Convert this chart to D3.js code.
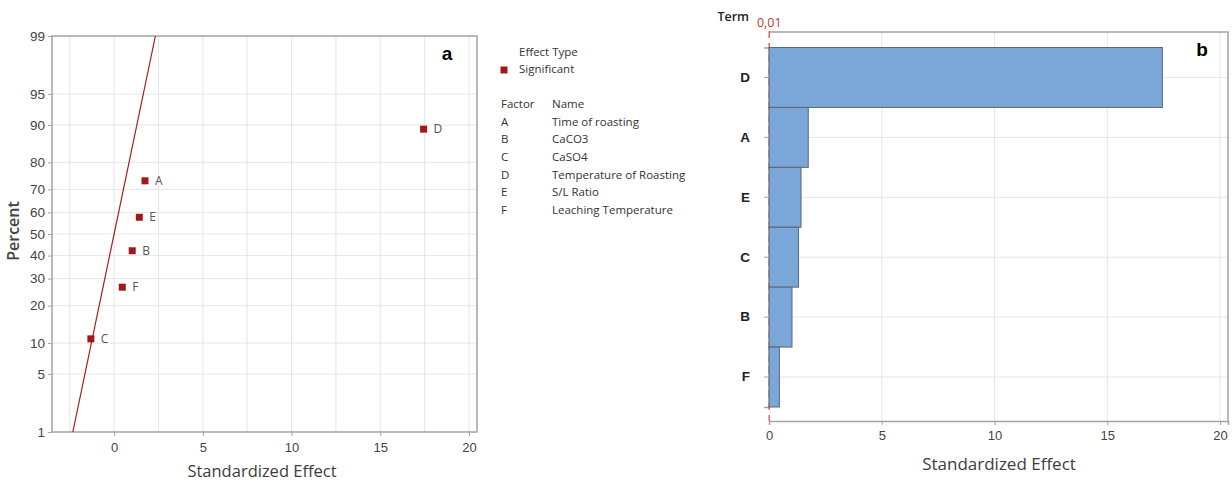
<!DOCTYPE html>
<html>
<head>
<meta charset="utf-8">
<script src="https://cdn.jsdelivr.net/npm/d3@7"></script>
<style>
  html, body { margin: 0; padding: 0; background: #fff; }
  svg { display: block; font-family: "Open Sans", "Noto Sans", sans-serif; }
</style>
</head>
<body>
<svg id="chart" width="1232" height="485"></svg>
<script>
// Factors and their standardized effects
const factors = ["A", "B", "C", "D", "E", "F"];
const factorNames = ["Time of roasting", "CaCO3", "CaSO4", "Temperature of Roasting", "S/L Ratio", "Leaching Temperature"];
const effects = [1.74, 1.02, -1.31, 17.44, 1.42, 0.46];
// Plotting percentiles of the normal plot (median ranks)
const percents = [73.4, 42.2, 10.9, 89.1, 57.8, 26.6];

// Axis ticks
const percentTicks = [1, 5, 10, 20, 30, 40, 50, 60, 70, 80, 90, 95, 99];
const effectTicks = [0, 5, 10, 15, 20];
const effectGrid = [-2.5, 0, 2.5, 5, 7.5, 10, 12.5, 15, 17.5, 20];
const paretoGrid = [5, 10, 15, 20];
// Reference line of the normal plot (mean, sd) and Pareto reference value
const refMean = 0, refSd = 1;
const paretoRef = 0.01;
const paretoRefLabel = "0,01";

const svg = d3.select("#chart");
const axisGrey = "#a3a3a3";
const gridGrey = "#e6e6e6";
const textGrey = "#444";
const markRed = "#9e1a1a";

// Inverse standard normal CDF (Acklam)
function probit(p) {
  const a = [-3.969683028665376e+01, 2.209460984245205e+02, -2.759285104469687e+02, 1.383577518672690e+02, -3.066479806614716e+01, 2.506628277459239e+00];
  const b = [-5.447609879822406e+01, 1.615858368580409e+02, -1.556989798598866e+02, 6.680131188771972e+01, -1.328068155288572e+01];
  const c = [-7.784894002430293e-03, -3.223964580411365e-01, -2.400758277161838e+00, -2.549671348283867e+00, 4.374664141464968e+00, 2.938163982698783e+00];
  const d = [7.784695709041462e-03, 3.224671290700398e-01, 2.445134137142996e+00, 3.754408661907416e+00];
  const pl = 0.02425;
  let q, r;
  if (p < pl) {
    q = Math.sqrt(-2 * Math.log(p));
    return (((((c[0]*q+c[1])*q+c[2])*q+c[3])*q+c[4])*q+c[5]) / ((((d[0]*q+d[1])*q+d[2])*q+d[3])*q+1);
  } else if (p <= 1 - pl) {
    q = p - 0.5; r = q * q;
    return (((((a[0]*r+a[1])*r+a[2])*r+a[3])*r+a[4])*r+a[5])*q / (((((b[0]*r+b[1])*r+b[2])*r+b[3])*r+b[4])*r+1);
  } else {
    q = Math.sqrt(-2 * Math.log(1 - p));
    return -(((((c[0]*q+c[1])*q+c[2])*q+c[3])*q+c[4])*q+c[5]) / ((((d[0]*q+d[1])*q+d[2])*q+d[3])*q+1);
  }
}

/* ---------------- Normal plot of standardized effects ---------------- */
const A = { left: 52, right: 477, top: 36, bottom: 432 };
const zLo = probit(0.01), zHi = probit(0.99);
const xA = d3.scaleLinear().domain([-3.5, 20.45]).range([A.left, A.right]);
const yA = d3.scaleLinear().domain([zLo, zHi]).range([A.bottom, A.top]);
const yP = p => yA(probit(p / 100));

const gA = svg.append("g");

// grid
gA.append("g").selectAll("line").data(effectGrid).join("line")
  .attr("x1", d => xA(d)).attr("x2", d => xA(d))
  .attr("y1", A.top).attr("y2", A.bottom)
  .attr("stroke", gridGrey).attr("stroke-width", 1);
gA.append("g").selectAll("line").data(percentTicks.filter(t => t > 1 && t < 99)).join("line")
  .attr("x1", A.left).attr("x2", A.right)
  .attr("y1", d => yP(d)).attr("y2", d => yP(d))
  .attr("stroke", gridGrey).attr("stroke-width", 1);

// frame
gA.append("rect")
  .attr("x", A.left).attr("y", A.top)
  .attr("width", A.right - A.left).attr("height", A.bottom - A.top)
  .attr("fill", "none").attr("stroke", axisGrey).attr("stroke-width", 1.5);

// y axis
const yAxisA = d3.axisLeft(d3.scaleLinear().domain(yA.domain()).range(yA.range()))
  .tickValues(percentTicks.map(p => probit(p / 100)))
  .tickFormat((d, i) => percentTicks[i])
  .tickSize(4).tickPadding(3);
gA.append("g").attr("transform", `translate(${A.left},0)`).call(yAxisA)
  .call(g => g.select(".domain").remove())
  .call(g => g.selectAll("line").attr("stroke", axisGrey))
  .call(g => g.selectAll("text").attr("fill", textGrey).attr("font-size", 13.5));

// x axis
const xAxisA = d3.axisBottom(xA).tickValues(effectTicks).tickSize(4).tickPadding(7);
gA.append("g").attr("transform", `translate(0,${A.bottom})`).call(xAxisA)
  .call(g => g.select(".domain").remove())
  .call(g => g.selectAll("line").attr("stroke", axisGrey))
  .call(g => g.selectAll("text").attr("fill", textGrey).attr("font-size", 13));

// reference line
gA.append("line")
  .attr("x1", xA(refMean + refSd * zLo)).attr("y1", yA(zLo))
  .attr("x2", xA(refMean + refSd * zHi)).attr("y2", yA(zHi))
  .attr("stroke", "#a31f1f").attr("stroke-width", 1.2);

// effect points
const pts = factors.map((f, i) => ({ f, x: effects[i], p: percents[i] }));
gA.append("g").selectAll("rect").data(pts).join("rect")
  .attr("x", d => xA(d.x) - 3.5).attr("y", d => yP(d.p) - 3.5)
  .attr("width", 7).attr("height", 7)
  .attr("fill", markRed);
gA.append("g").selectAll("text").data(pts).join("text")
  .attr("x", d => xA(d.x) + 10).attr("y", d => yP(d.p) + 1)
  .attr("dominant-baseline", "middle")
  .attr("font-size", 12).attr("fill", "#555")
  .text(d => d.f);

// titles
gA.append("text")
  .attr("transform", `translate(15,${yP(50) - 3}) rotate(-90)`)
  .attr("text-anchor", "middle").attr("dominant-baseline", "middle")
  .attr("font-size", 16).attr("font-weight", 600).attr("fill", textGrey)
  .text("Percent");
gA.append("text")
  .attr("x", 262).attr("y", 473)
  .attr("text-anchor", "middle").attr("dominant-baseline", "middle")
  .attr("font-size", 16.5).attr("fill", "#3d3d3d")
  .text("Standardized Effect");
gA.append("text")
  .attr("x", 447).attr("y", 55)
  .attr("text-anchor", "middle").attr("dominant-baseline", "middle")
  .attr("font-size", 19).attr("font-weight", "bold").attr("fill", "#000")
  .attr("font-family", "Liberation Sans, Arial, sans-serif")
  .text("a");

// legend
const lg = svg.append("g").attr("font-size", 11.5).attr("fill", "#333");
lg.append("text").attr("x", 519).attr("y", 53).attr("dominant-baseline", "middle").text("Effect Type");
lg.append("rect").attr("x", 500.5).attr("y", 66.5).attr("width", 7).attr("height", 7).attr("fill", markRed);
lg.append("text").attr("x", 519).attr("y", 70).attr("dominant-baseline", "middle").text("Significant");
lg.append("text").attr("x", 501).attr("y", 105).attr("dominant-baseline", "middle").text("Factor");
lg.append("text").attr("x", 552).attr("y", 105).attr("dominant-baseline", "middle").text("Name");
const rowY = d3.scalePoint().domain(factors).range([122.5, 211]);
lg.append("g").selectAll("text").data(factors).join("text")
  .attr("x", 501).attr("y", d => rowY(d)).attr("dominant-baseline", "middle").text(d => d);
lg.append("g").selectAll("text").data(factorNames).join("text")
  .attr("x", 552).attr("y", (d, i) => rowY(factors[i])).attr("dominant-baseline", "middle").text(d => d);

/* ---------------- Pareto chart of standardized effects ---------------- */
const B = { left: 769, right: 1228, top: 32, bottom: 421 };
const bars = factors.map((f, i) => ({ f, v: Math.abs(effects[i]) }))
  .sort((a, b) => b.v - a.v);
const xB = d3.scaleLinear().domain([0, 20.35]).range([B.left, B.right]);
const yB = d3.scaleBand().domain(bars.map(d => d.f)).range([B.top + 15.5, B.bottom - 14]).padding(0);

const gB = svg.append("g");

// grid
gB.append("g").selectAll("line").data(paretoGrid).join("line")
  .attr("x1", d => xB(d)).attr("x2", d => xB(d))
  .attr("y1", B.top).attr("y2", B.bottom)
  .attr("stroke", gridGrey);
gB.append("g").selectAll("line").data(bars).join("line")
  .attr("x1", B.left).attr("x2", B.right)
  .attr("y1", d => yB(d.f) + yB.bandwidth() / 2).attr("y2", d => yB(d.f) + yB.bandwidth() / 2)
  .attr("stroke", gridGrey);

// frame (top, right) and axes
gB.append("path")
  .attr("d", `M${B.left},${B.top}H${B.right}V${B.bottom}`)
  .attr("fill", "none").attr("stroke", axisGrey).attr("stroke-width", 1.5);
const xAxisB = d3.axisBottom(xB).tickValues(effectTicks).tickSize(4).tickPadding(6);
gB.append("g").attr("transform", `translate(0,${B.bottom})`).call(xAxisB)
  .call(g => g.select(".domain").attr("stroke", axisGrey).attr("stroke-width", 1.5))
  .call(g => g.selectAll(".tick line").attr("stroke", axisGrey))
  .call(g => g.selectAll("text").attr("fill", textGrey).attr("font-size", 13));
const yAxisB = d3.axisLeft(yB).tickSize(5).tickPadding(14);
gB.append("g").attr("transform", `translate(${B.left},0)`).call(yAxisB)
  .call(g => g.select(".domain").attr("stroke", axisGrey).attr("stroke-width", 1.5))
  .call(g => g.selectAll(".tick line").attr("stroke", axisGrey))
  .call(g => g.selectAll("text").attr("fill", "#222").attr("font-size", 13.5).attr("font-weight", 600));

// reference line
gB.append("line")
  .attr("x1", xB(paretoRef)).attr("x2", xB(paretoRef))
  .attr("y1", B.top - 1).attr("y2", B.bottom)
  .attr("stroke", "#e86060").attr("stroke-width", 1.5).attr("stroke-dasharray", "7,5");
gB.append("text")
  .attr("x", xB(paretoRef)).attr("y", 24)
  .attr("text-anchor", "middle").attr("dominant-baseline", "middle")
  .attr("font-size", 12.5).attr("fill", "#c0392b")
  .text(paretoRefLabel);

// bars
gB.append("g").selectAll("rect").data(bars).join("rect")
  .attr("x", xB(0)).attr("y", d => yB(d.f))
  .attr("width", d => xB(d.v) - xB(0)).attr("height", yB.bandwidth())
  .attr("fill", "#7ba7d8").attr("stroke", "#5c6670").attr("stroke-width", 1);

// titles
gB.append("text")
  .attr("x", 749).attr("y", 18)
  .attr("text-anchor", "end").attr("dominant-baseline", "middle")
  .attr("font-size", 12.5).attr("font-weight", 600).attr("fill", "#222")
  .text("Term");
gB.append("text")
  .attr("x", 999).attr("y", 465)
  .attr("text-anchor", "middle").attr("dominant-baseline", "middle")
  .attr("font-size", 17).attr("fill", "#3d3d3d")
  .text("Standardized Effect");
gB.append("text")
  .attr("x", 1202).attr("y", 51)
  .attr("text-anchor", "middle").attr("dominant-baseline", "middle")
  .attr("font-size", 19).attr("font-weight", "bold").attr("fill", "#000")
  .attr("font-family", "Liberation Sans, Arial, sans-serif")
  .text("b");
</script>
</body>
</html>
